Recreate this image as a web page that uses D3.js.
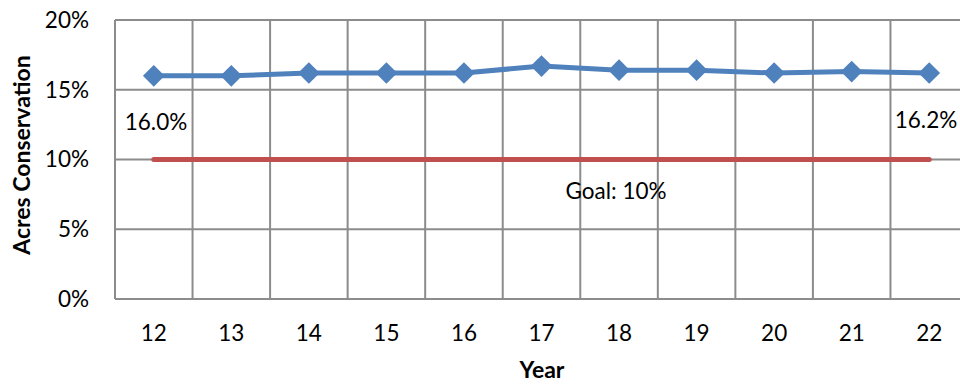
<!DOCTYPE html>
<html>
<head>
<meta charset="utf-8">
<script src="https://cdn.jsdelivr.net/npm/d3@7"></script>
<style>
  body { margin: 0; background: #fff; }
  text { font-family: Lato, "Open Sans", sans-serif; fill: #000; }
</style>
</head>
<body>
<div id="chart"></div>
<script>
const years = ['12', '13', '14', '15', '16', '17', '18', '19', '20', '21', '22'];
const acres = [16.0, 16.0, 16.2, 16.2, 16.2, 16.7, 16.4, 16.4, 16.2, 16.3, 16.2];
const goal = 10;
const yTicks = [0, 5, 10, 15, 20];

const width = 960;
const height = 385;
const plotLeft = 115, plotRight = 968, plotTop = 20, plotBottom = 299;
const labelSize = '22.5px';

const svg = d3.select('#chart')
    .append('svg')
    .attr('width', width)
    .attr('height', height);

const xScale = d3.scaleBand()
    .domain(years)
    .range([plotLeft, plotRight]);

const yScale = d3.scaleLinear()
    .domain([0, 20])
    .range([plotBottom, plotTop]);

const cx = d => xScale(d) + xScale.bandwidth() / 2;

// grid
const grid = svg.append('g').attr('stroke', '#8c8c8c').attr('stroke-width', 2);
grid.selectAll('.h')
    .data(yTicks)
    .enter()
    .append('line')
    .attr('x1', plotLeft)
    .attr('x2', plotRight)
    .attr('y1', d => yScale(d))
    .attr('y2', d => yScale(d));
grid.selectAll('.v')
    .data(years.concat(['end']))
    .enter()
    .append('line')
    .attr('x1', (d, i) => plotLeft + i * xScale.bandwidth())
    .attr('x2', (d, i) => plotLeft + i * xScale.bandwidth())
    .attr('y1', plotTop)
    .attr('y2', plotBottom);

// y tick labels
svg.append('g')
    .selectAll('text')
    .data(yTicks)
    .enter()
    .append('text')
    .attr('x', 89)
    .attr('y', d => yScale(d))
    .attr('dy', '0.35em')
    .attr('text-anchor', 'end')
    .style('font-size', labelSize)
    .text(d => d + '%');

// x tick labels
svg.append('g')
    .selectAll('text')
    .data(years)
    .enter()
    .append('text')
    .attr('x', d => cx(d))
    .attr('y', 333)
    .attr('dy', '0.35em')
    .attr('text-anchor', 'middle')
    .style('font-size', labelSize)
    .text(d => d);

// goal line
svg.append('line')
    .attr('x1', cx(years[0]))
    .attr('x2', cx(years[years.length - 1]))
    .attr('y1', yScale(goal))
    .attr('y2', yScale(goal))
    .attr('stroke', '#c0504d')
    .attr('stroke-width', 5)
    .attr('stroke-linecap', 'round');

// series line
const line = d3.line()
    .x((d, i) => cx(years[i]))
    .y(d => yScale(d));

svg.append('path')
    .datum(acres)
    .attr('d', line)
    .attr('fill', 'none')
    .attr('stroke', '#4f81bd')
    .attr('stroke-width', 5);

svg.append('g')
    .selectAll('path')
    .data(acres)
    .enter()
    .append('path')
    .attr('d', d3.symbol(d3.symbolDiamond2, 300)())
    .attr('transform', (d, i) => 'translate(' + cx(years[i]) + ',' + yScale(d) + ')')
    .attr('fill', '#4f81bd');

// data labels
svg.append('text')
    .attr('x', 156)
    .attr('y', 122)
    .attr('dy', '0.35em')
    .attr('text-anchor', 'middle')
    .style('font-size', labelSize)
    .text(acres[0].toFixed(1) + '%');

svg.append('text')
    .attr('x', 926)
    .attr('y', 120)
    .attr('dy', '0.35em')
    .attr('text-anchor', 'middle')
    .style('font-size', labelSize)
    .text(acres[acres.length - 1].toFixed(1) + '%');

svg.append('text')
    .attr('x', 616)
    .attr('y', 191)
    .attr('dy', '0.35em')
    .attr('text-anchor', 'middle')
    .style('font-size', labelSize)
    .text('Goal: ' + goal + '%');

// axis titles
svg.append('text')
    .attr('transform', 'translate(22,155) rotate(-90)')
    .attr('dy', '0.35em')
    .attr('text-anchor', 'middle')
    .style('font-size', '23px')
    .style('font-weight', 'bold')
    .text('Acres Conservation');

svg.append('text')
    .attr('x', 542)
    .attr('y', 370)
    .attr('dy', '0.35em')
    .attr('text-anchor', 'middle')
    .style('font-size', '23px')
    .style('font-weight', 'bold')
    .text('Year');
</script>
</body>
</html>
